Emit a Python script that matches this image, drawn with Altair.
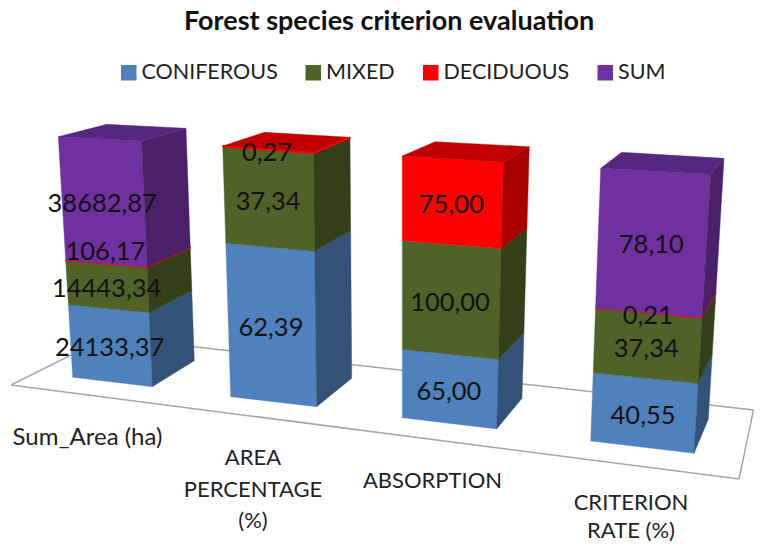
import altair as alt
import pandas as pd

# ---- chart values ----
CATEGORIES = ["Sum_Area (ha)", "AREA PERCENTAGE (%)", "ABSORPTION", "CRITERION RATE (%)"]
SERIES = ["CONIFEROUS", "MIXED", "DECIDUOUS", "SUM"]
CONIFEROUS = [24133.37, 62.39, 65.00, 40.55]
MIXED = [14443.34, 37.34, 100.00, 37.34]
DECIDUOUS = [106.17, 0.27, 75.00, 0.21]
SUM = [38682.87, 0.0, 0.0, 78.10]
VALUES = {"CONIFEROUS": CONIFEROUS, "MIXED": MIXED, "DECIDUOUS": DECIDUOUS, "SUM": SUM}

# ---- styles ----
FONT = "Lato"
FRONT = ["#4f81bd", "#4f6228", "#ff0000", "#7030a0"]
SIDE = ["#325278", "#333f18", "#a60000", "#4a2069"]
TOP = ["#3b618f", "#3c4a1e", "#c00000", "#552780"]

# ---- the picture's 3-D box frames, in page pixels ----
# front: top-left, top-right, bottom-right, bottom-left; back: top-right, bottom-right, top-left
FRONT_BOX = [
    [(58.3, 136.7), (141.7, 141.0), (152.3, 386.7), (72.7, 377.3)],
    [(222.7, 146.0), (313.3, 152.7), (316.7, 406.7), (230.7, 396.7)],
    [(402.3, 156.0), (503.3, 162.3), (496.7, 429.0), (402.3, 417.7)],
    [(600.7, 168.3), (710.7, 174.3), (694.0, 453.3), (590.7, 441.0)],
]
BACK_BOX = [
    [(186.0, 128.3), (194.3, 360.7), (106.7, 124.3)],
    [(350.0, 137.3), (351.7, 378.3), (264.3, 132.3)],
    [(529.3, 146.7), (522.0, 398.3), (435.0, 141.7)],
    [(724.0, 158.3), (708.3, 419.3), (621.7, 152.3)],
]
FLOOR = [(11, 385), (107, 337), (753.5, 410), (739, 479), (11, 385)]
FORESHORTEN = 0.95
LABEL_NUDGE = {(0, 2): -15}
AXIS_TEXT = [
    ("Sum_Area (ha)", 87.5, 438, 24), ("AREA", 253, 458, 22), ("PERCENTAGE", 253, 490, 22), ("(%)", 253, 521, 22),
    ("ABSORPTION", 432.5, 481, 22), ("CRITERION", 631, 503, 22), ("RATE (%)", 631, 531, 22),
]
M = 8  # page margin


def lerp(a, b, t):
    return (a[0] + (b[0] - a[0]) * t, a[1] + (b[1] - a[1]) * t)


def persp(t):
    return t * FORESHORTEN / (1 + t * (FORESHORTEN - 1))


polys, labels = [], []
fid = 0


def add(points, fill, stroke, sw):
    global fid
    for i, p in enumerate(list(points) + [points[0]]):
        polys.append(dict(face=fid, i=i, x=p[0] - M, y=p[1] - M, fill=fill, stroke=stroke, sw=sw))
    fid += 1


for c in range(len(CATEGORIES)):
    tl, tr, br, bl = FRONT_BOX[c]
    btr, bbr, btl = BACK_BOX[c]
    vals = [VALUES[s][c] for s in SERIES]
    total = sum(vals)
    cum = 0.0
    last = max(i for i, v in enumerate(vals) if v > 0)
    for s, v in enumerate(vals):
        if v <= 0:
            continue
        t0, t1 = persp(cum / total), persp((cum + v) / total)
        cum += v
        fl0, fr0, bk0 = lerp(bl, tl, t0), lerp(br, tr, t0), lerp(bbr, btr, t0)
        fl1, fr1, bk1 = lerp(bl, tl, t1), lerp(br, tr, t1), lerp(bbr, btr, t1)
        thin = s == 2 and v / total < 0.1
        add([fl0, fr0, fr1, fl1], FRONT[s], FRONT[s], 1.2 if thin else 0.4)
        side = FRONT[s] if thin else SIDE[s]
        add([fr0, bk0, bk1, fr1], side, side, 1.2 if thin else 0.4)
        if s == last:
            add([fl1, fr1, btr, btl], TOP[s], TOP[s], 0.4)
            if thin:
                add([fl1, fr1, btr, fr1], FRONT[s], FRONT[s], 1.2)
        cx = (fl0[0] + fr0[0] + fl1[0] + fr1[0]) / 4
        cy = (fl0[1] + fr0[1] + fl1[1] + fr1[1]) / 4 + LABEL_NUDGE.get((c, s), 0)
        labels.append(dict(x=cx - M, y=cy - M, text=f"{v:.2f}".replace(".", ",")))

floor_df = pd.DataFrame([dict(i=i, x=p[0] - M, y=p[1] - M) for i, p in enumerate(FLOOR)])
poly_df = pd.DataFrame(polys)
label_df = pd.DataFrame(labels)
axis_df = pd.DataFrame([dict(text=t, x=x - M, y=y - M, fs=fs) for t, x, y, fs in AXIS_TEXT])

W, H = 746, 536
X = alt.X("x:Q", axis=None, scale=alt.Scale(domain=[0, W], range=[0, W]))
Y = alt.Y("y:Q", axis=None, scale=alt.Scale(domain=[0, H], range=[0, H]))

floor = alt.Chart(floor_df).mark_line(stroke="#a6a6a6", strokeWidth=1.5).encode(x=X, y=Y, order="i:Q")
faces = alt.Chart(poly_df).mark_line().encode(
    x=X, y=Y, order="i:Q", detail="face:N",
    fill=alt.Fill("fill:N", scale=None),
    stroke=alt.Stroke("stroke:N", scale=None),
    strokeWidth=alt.StrokeWidth("sw:Q", scale=None),
)
value_text = alt.Chart(label_df).mark_text(font=FONT, fontSize=25.5, color="#111111", dx=-1, dy=3).encode(
    x=X, y=Y, text="text:N")
axis_text = alt.Chart(axis_df).mark_text(font=FONT, color="#222222").encode(
    x=X, y=Y, text="text:N", size=alt.Size("fs:Q", scale=None))
legend_layer = alt.Chart(pd.DataFrame({"series": SERIES, "x": [0] * 4, "y": [0] * 4})).mark_square(size=0).encode(
    x=X, y=Y,
    color=alt.Color(
        "series:N",
        scale=alt.Scale(domain=SERIES, range=FRONT),
        sort=SERIES,
        legend=alt.Legend(
            title=None, orient="none", legendX=110, legendY=54, direction="horizontal",
            symbolType="square", symbolSize=240, symbolStrokeWidth=0, labelFont=FONT, labelFontSize=21.5,
            labelColor="#222222", labelOffset=2, columnPadding=24.5, gridAlign="none",
        ),
    ),
)

chart = (floor + faces + value_text + axis_text + legend_layer).properties(
    width=W, height=H, padding=0, autosize=alt.AutoSizeParams(type="none"),
    title=alt.TitleParams(
        "Forest species criterion evaluation", font=FONT, fontSize=27, fontWeight="bold",
        color="#111111", anchor="start", frame="group", dx=176, dy=0, offset=-28,
    ),
).configure_view(stroke=None).configure_legend(symbolOpacity=1)

chart.save("out.html", embed_options={"renderer": "svg", "actions": False})
